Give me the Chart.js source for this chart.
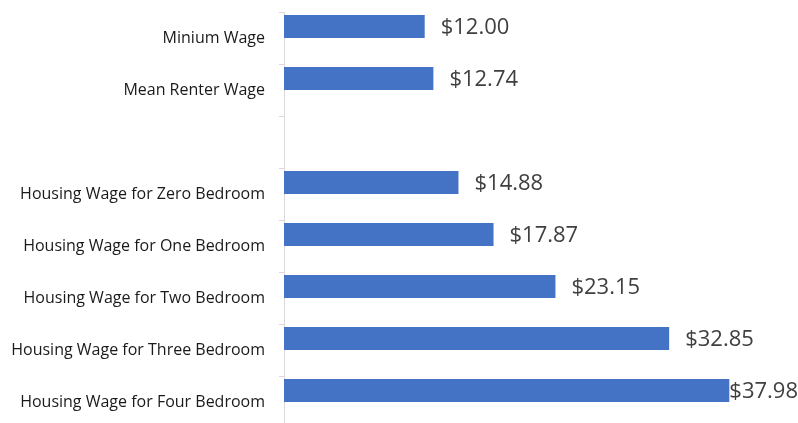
<!DOCTYPE html>
<html>
<head>
<meta charset="utf-8">
<script src="https://cdn.jsdelivr.net/npm/chart.js@4/dist/chart.umd.min.js"></script>
<style>
  html, body { margin: 0; padding: 0; background: #fff; overflow: hidden; }
  #wrap { width: 798px; height: 430px; }
</style>
</head>
<body>
<div id="wrap"><canvas id="chart" width="798" height="430"></canvas></div>
<script>
// Categories top to bottom (blank row is the gap in the original)
var categories = [
    'Minium Wage',
    'Mean Renter Wage',
    '',
    'Housing Wage for Zero Bedroom',
    'Housing Wage for One Bedroom',
    'Housing Wage for Two Bedroom',
    'Housing Wage for Three Bedroom',
    'Housing Wage for Four Bedroom'
];
var wages = [12.00, 12.74, null, 14.88, 17.87, 23.15, 32.85, 37.98];
// second (empty) series that shifts bars to the top of each row, like the source
var emptySeries = [null, null, null, null, null, null, null, null];

// Dollar labels to the right of each bar, pushed back in at the canvas edge
var valueLabels = {
    id: 'valueLabels',
    afterDatasetsDraw: function (chart) {
        var ctx = chart.ctx;
        var meta = chart.getDatasetMeta(0);
        ctx.save();
        ctx.font = '22px "Open Sans"';
        ctx.fillStyle = '#404040';
        ctx.textBaseline = 'middle';
        ctx.textAlign = 'left';
        meta.data.forEach(function (bar, i) {
            if (wages[i] == null) return;
            var text = '$' + wages[i].toFixed(2);
            var w = ctx.measureText(text).width;
            var x = Math.min(bar.x + 16, chart.width - w);
            ctx.fillText(text, x, bar.y + 1);
        });
        ctx.restore();
    }
};

var ctx = document.getElementById('chart').getContext('2d');
var chart = new Chart(ctx, {
    type: 'bar',
    data: {
        labels: categories,
        datasets: [{
            data: wages,
            backgroundColor: '#4472C4',
            categoryPercentage: 0.885,
            barPercentage: 1.0
        }, {
            data: emptySeries,
            backgroundColor: '#4472C4',
            categoryPercentage: 0.885,
            barPercentage: 1.0
        }]
    },
    options: {
        indexAxis: 'y',
        responsive: false,
        animation: false,
        layout: { padding: { top: 12, right: 45, bottom: 2, left: 0 } },
        plugins: { legend: { display: false }, tooltip: { enabled: false } },
        scales: {
            x: { display: false, min: 0, max: 40 },
            y: {
                offset: true,
                afterFit: function (scale) {
                    scale.width = 284;
                    scale.paddingTop = 0;
                    scale.paddingBottom = 0;
                },
                grid: {
                    drawOnChartArea: false,
                    offset: true,
                    tickLength: 5,
                    color: '#d9d9d9'
                },
                border: { display: true, color: '#d9d9d9', width: 1 },
                ticks: {
                    padding: 14,
                    color: '#1a1a1a',
                    font: { family: '"Open Sans"', size: 16 }
                }
            }
        }
    },
    plugins: [valueLabels]
});
</script>
</body>
</html>
